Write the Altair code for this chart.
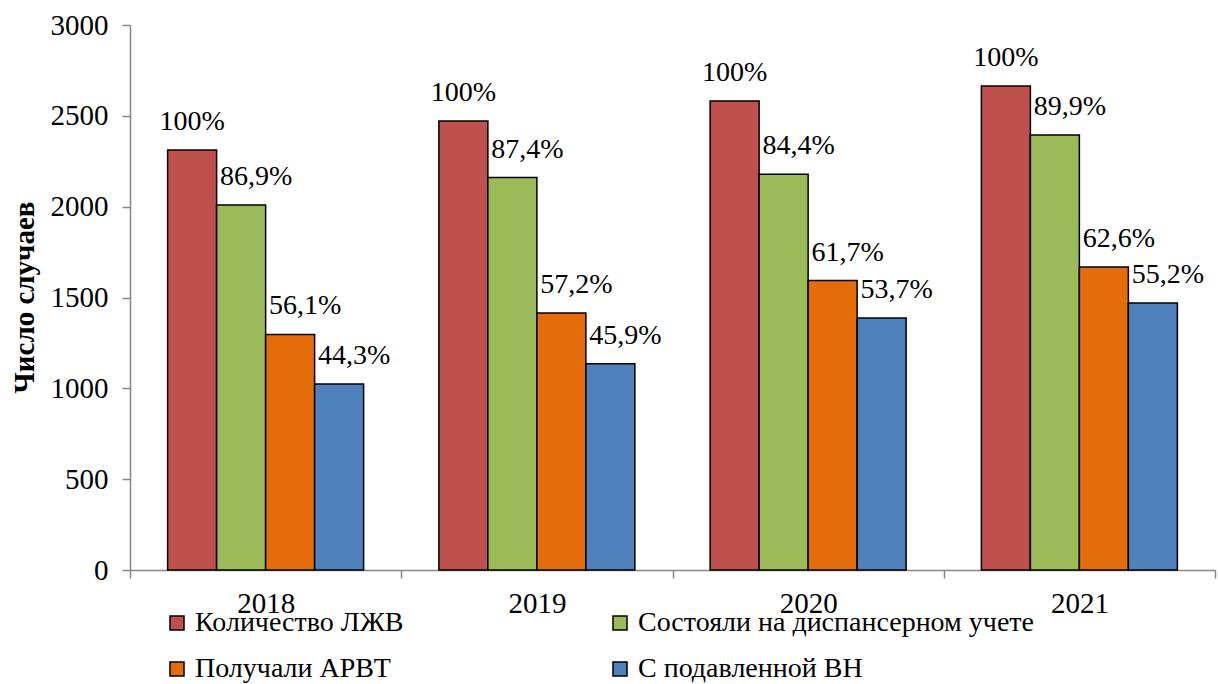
import altair as alt
import pandas as pd

# Years and series
years = ["2018", "2019", "2020", "2021"]
series = [
    "Количество ЛЖВ",
    "Состояли на диспансерном учете",
    "Получали АРВТ",
    "С подавленной ВН",
]
plhiv = [2312, 2472, 2582, 2664]          # Количество ЛЖВ
registered = [2009, 2160, 2179, 2395]     # Состояли на диспансерном учете
on_art = [1297, 1414, 1593, 1668]         # Получали АРВТ
suppressed = [1024, 1135, 1387, 1470]     # С подавленной ВН
colors = ["#C0504D", "#9BBB59", "#E46C0A", "#4F81BD"]
y_ticks = [0, 500, 1000, 1500, 2000, 2500, 3000]

rows = []
for i, yr in enumerate(years):
    for s, vals in zip(series, [plhiv, registered, on_art, suppressed]):
        v = vals[i]
        pct = round(v / plhiv[i] * 100, 1)
        lab = "100%" if pct == 100 else f"{pct:.1f}%".replace(".", ",")
        rows.append(dict(year=yr, series=s, value=v, label=lab))
df = pd.DataFrame(rows)

# legend fills column by column: order entries so rows read left to right
legend_order = [series[0], series[2], series[1], series[3]]
legend_colors = [colors[0], colors[2], colors[1], colors[3]]

FONT = "Times New Roman"
AXIS_GREY = "#868686"

x_enc = alt.X(
    "year:N", sort=years, title=None,
    scale=alt.Scale(paddingInner=0, paddingOuter=0),
    axis=alt.Axis(
        tickBand="extent", labelAngle=0, labelFont=FONT, labelFontSize=29,
        labelColor="black", labelPadding=11, tickSize=8, tickColor=AXIS_GREY,
        tickWidth=1.5, domainColor=AXIS_GREY, domainWidth=1.5,
    ),
)
xo_enc = alt.XOffset(
    "series:N", sort=series,
    scale=alt.Scale(paddingInner=0, paddingOuter=0.768),
)
y_enc = alt.Y(
    "value:Q",
    scale=alt.Scale(domain=[0, 3000], nice=False),
    axis=alt.Axis(
        values=y_ticks, format="d", grid=False, labelFont=FONT, labelFontSize=29,
        labelColor="black", labelPadding=14, tickSize=8, tickColor=AXIS_GREY,
        tickWidth=1.5, domainColor=AXIS_GREY, domainWidth=1.5,
        title="Число случаев", titleFont=FONT, titleFontSize=29,
        titleFontWeight="bold", titleColor="black", titleX=-106, titleY=272,
        titleBaseline="middle", titleAngle=270,
    ),
)

bars = alt.Chart().mark_bar(stroke="black", strokeWidth=1.5).encode(
    x=x_enc,
    xOffset=xo_enc,
    y=y_enc,
    color=alt.Color(
        "series:N",
        scale=alt.Scale(domain=legend_order, range=legend_colors),
        legend=alt.Legend(
            title=None, orient="none", legendX=33, legendY=584, columns=2,
            columnPadding=202, rowPadding=18, symbolType="square",
            symbolSize=196, symbolStrokeColor="black", symbolStrokeWidth=1.5,
            labelFont=FONT, labelFontSize=28, labelColor="black",
            labelOffset=4, labelLimit=600,
        ),
    ),
)

label_base = dict(font=FONT, fontSize=28, color="black", baseline="middle", dy=-28)

labels_first = alt.Chart().mark_text(**label_base).encode(
    x=alt.X("year:N", sort=years),
    xOffset=alt.XOffset("series:N", sort=series),
    y="value:Q",
    text="label:N",
).transform_filter(alt.datum.series == series[0])

labels_rest = alt.Chart().mark_text(dx=15, **label_base).encode(
    x=alt.X("year:N", sort=years),
    xOffset=alt.XOffset("series:N", sort=series),
    y="value:Q",
    text="label:N",
).transform_filter(alt.datum.series != series[0])

chart = alt.layer(bars, labels_first, labels_rest, data=df).properties(
    width=1085,
    height=545,
    autosize="none",
    padding={"left": 130, "top": 25, "right": 3, "bottom": 114},
    background="white",
).configure_view(stroke=None)

chart.save("out.html", embed_options={"renderer": "svg", "actions": False})
